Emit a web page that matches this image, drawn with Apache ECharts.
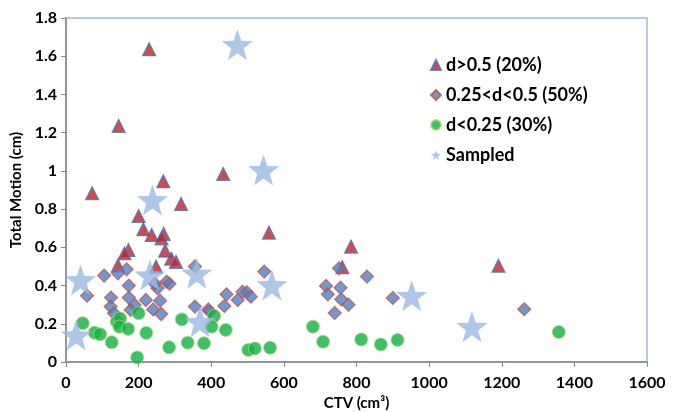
<!DOCTYPE html>
<html>
<head>
<meta charset="utf-8">
<script src="https://cdn.jsdelivr.net/npm/echarts@6/dist/echarts.min.js"></script>
<style>
  html, body { margin: 0; padding: 0; background: #fff; }
  #chart { width: 674px; height: 412px; }
</style>
</head>
<body>
<div id="chart"></div>
<script>
// CTV (cm3) / total motion (cm)
var highX = [229, 145, 72, 433, 268, 317, 200, 213, 236, 269, 263, 273, 172, 161, 290, 303, 143, 248, 559, 785, 761, 1191];
var highY = [1.637, 1.236, 0.883, 0.984, 0.946, 0.827, 0.764, 0.695, 0.665, 0.67, 0.647, 0.583, 0.586, 0.569, 0.541, 0.524, 0.506, 0.499, 0.677, 0.604, 0.496, 0.504];

var midX = [105, 143, 167, 173, 58, 124, 173, 123, 132, 189, 178, 220, 259, 240, 262, 277, 285, 252, 245, 442, 436, 473, 486, 498, 509, 546, 355, 392, 395, 355, 752, 829, 716, 721, 756, 758, 778, 740, 900, 1262];
var midY = [0.452, 0.464, 0.485, 0.40, 0.347, 0.337, 0.337, 0.29, 0.255, 0.298, 0.272, 0.325, 0.321, 0.275, 0.251, 0.42, 0.41, 0.386, 0.41, 0.354, 0.293, 0.325, 0.368, 0.365, 0.342, 0.473, 0.29, 0.275, 0.265, 0.50, 0.49, 0.447, 0.398, 0.354, 0.389, 0.328, 0.30, 0.257, 0.335, 0.276];

var lowX = [46, 79, 94, 126, 140, 149, 147, 171, 200, 221, 196, 284, 319, 335, 408, 401, 440, 380, 502, 520, 562, 680, 708, 813, 867, 913, 1357];
var lowY = [0.203, 0.153, 0.145, 0.103, 0.211, 0.228, 0.185, 0.173, 0.255, 0.152, 0.024, 0.077, 0.223, 0.101, 0.241, 0.185, 0.168, 0.098, 0.063, 0.071, 0.075, 0.185, 0.106, 0.118, 0.092, 0.115, 0.157];

var sampX = [472, 544, 238, 231, 40, 28, 360, 567, 369, 952, 1118];
var sampY = [1.66, 1.005, 0.848, 0.455, 0.429, 0.141, 0.464, 0.403, 0.211, 0.347, 0.185];

var seriesNames = ['d>0.5 (20%)', '0.25<d<0.5 (50%)', 'd<0.25 (30%)', 'Sampled'];

function pairs(xs, ys) {
  return xs.map(function (x, i) { return [x, ys[i]]; });
}

var font = 'Lato, "Open Sans", sans-serif';
var starPath = 'path://M0,-10 L2.35,-3.24 L9.51,-3.09 L3.8,1.24 L5.88,8.09 L0,4 L-5.88,8.09 L-3.8,1.24 L-9.51,-3.09 L-2.35,-3.24 Z';
var chart = echarts.init(document.getElementById('chart'));

var option = {
  animation: false,
  backgroundColor: '#fff',
  textStyle: { fontFamily: font },
  grid: {
    left: 66, right: 27, top: 18, bottom: 50,
    outerBoundsMode: 'none',
    containLabel: false,
    show: true,
    borderColor: '#9dbbe0',
    borderWidth: 1.5
  },
  legend: {
    orient: 'vertical',
    left: 425,
    top: 51,
    itemGap: 12,
    itemWidth: 10,
    itemHeight: 10,
    textStyle: { fontSize: 18, fontWeight: 'bold', color: '#000', fontFamily: font },
    data: seriesNames
  },
  xAxis: {
    type: 'value',
    min: 0, max: 1600, interval: 200,
    name: 'CTV (cm³)',
    nameLocation: 'middle',
    nameGap: 34,
    nameTextStyle: { fontSize: 15, fontWeight: 'bold', color: '#000' },
    splitLine: { show: false },
    axisLine: { show: true, onZero: false, lineStyle: { color: '#868686', width: 1.5 } },
    axisTick: { show: true, inside: false, length: 5, lineStyle: { color: '#868686' } },
    axisLabel: {
      fontSize: 16, fontWeight: 'bold', color: '#000', margin: 13,
      formatter: function (v) { return String(v); }
    }
  },
  yAxis: {
    type: 'value',
    min: 0, max: 1.8, interval: 0.2,
    name: 'Total Motion (cm)',
    nameLocation: 'middle',
    nameGap: 38,
    nameTextStyle: { fontSize: 15, fontWeight: 'bold', color: '#000' },
    splitLine: { show: false },
    axisLine: { show: true, onZero: false, lineStyle: { color: '#868686', width: 1.5 } },
    axisTick: { show: true, inside: false, length: 5, lineStyle: { color: '#868686' } },
    axisLabel: {
      fontSize: 16, fontWeight: 'bold', color: '#000', margin: 9,
      formatter: function (v) { return String(Math.round(v * 10) / 10); }
    }
  },
  series: [
    {
      name: seriesNames[0],
      type: 'scatter',
      symbol: 'triangle',
      symbolSize: 13,
      itemStyle: { color: '#c0202a', borderColor: '#4a72b8', borderWidth: 1.2 },
      data: pairs(highX, highY)
    },
    {
      name: seriesNames[1],
      type: 'scatter',
      symbol: 'diamond',
      symbolSize: 13,
      itemStyle: { color: '#4f7fc0', borderColor: '#c0504d', borderWidth: 1.2 },
      data: pairs(midX, midY)
    },
    {
      name: seriesNames[2],
      type: 'scatter',
      symbol: 'circle',
      symbolSize: 13,
      itemStyle: { color: '#10b040', borderColor: '#b5d27a', borderWidth: 1 },
      data: pairs(lowX, lowY)
    },
    {
      name: seriesNames[3],
      type: 'scatter',
      symbol: starPath,
      symbolSize: 31,
      itemStyle: { color: '#9ab9e2' },
      data: pairs(sampX, sampY)
    }
  ]
};

chart.setOption(option);
</script>
</body>
</html>
